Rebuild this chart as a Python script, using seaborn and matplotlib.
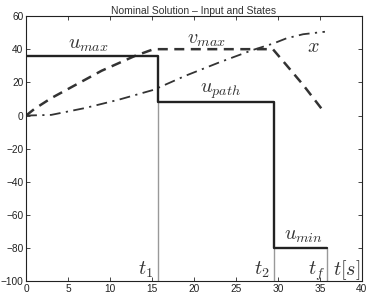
import matplotlib
matplotlib.use("Agg")
import matplotlib.pyplot as plt
import seaborn as sns
import numpy as np

# --- data ---
switch_times = [15.7, 29.5, 35.8]               # t1, t2, tf
u_times = [0.0, 15.7, 29.5, 35.8]
u_values = [36, 8, -80, -80]
gray_tops = [8, -80, -80]                        # top of the gray switch markers

v_times = [0.0, 1.0, 3.0, 5.0, 7.0, 9.0, 11.0, 13.0, 15.2, 20.0, 25.0, 29.4, 31.0, 33.0, 35.6]
v_values = [0.0, 4.0, 10.5, 16.0, 21.5, 27.0, 31.5, 36.0, 40.0, 40.0, 40.0, 40.0, 30.5, 18.5, 1.5]

x_times = [0.0, 3.0, 7.0, 11.0, 15.2, 19.0, 23.0, 27.0, 29.5, 31.0, 33.0, 35.6]
x_values = [0.0, 0.4, 4.5, 9.5, 15.5, 24.0, 32.0, 39.5, 43.5, 46.5, 49.0, 50.5]

x_ticks = [0, 5, 10, 15, 20, 25, 30, 35, 40]
y_ticks = [-100, -80, -60, -40, -20, 0, 20, 40, 60]

sns.set_style("white")
plt.rcParams['font.family'] = ['Liberation Sans', 'DejaVu Sans']
plt.rcParams['mathtext.fontset'] = 'cm'

fig = plt.figure(figsize=(3.67, 2.96), dpi=100)
ax = fig.add_axes([0.071, 0.049, 0.915, 0.897])

# gray switch markers
ax.vlines(switch_times, -100, gray_tops, colors='#999999', lw=1.0, zorder=1)

# input u (step)
sns.lineplot(x=u_times, y=u_values, ax=ax, color='#222222', lw=1.7,
             drawstyle='steps-post', estimator=None, sort=False, zorder=3)
# velocity v (dashed)
sns.lineplot(x=v_times, y=v_values, ax=ax, color='#333333', lw=1.8,
             estimator=None, sort=False, zorder=2, dashes=False)
ax.lines[-1].set_linestyle((0, (4, 2.6)))
# position x (dash-dot)
sns.lineplot(x=x_times, y=x_values, ax=ax, color='#333333', lw=1.3,
             estimator=None, sort=False, zorder=2, dashes=False)
ax.lines[-1].set_linestyle((0, (6, 3, 1.2, 3)))

ax.set_xlim(0, 40)
ax.set_ylim(-100, 60)
ax.set_xticks(x_ticks)
ax.set_yticks(y_ticks)
ax.tick_params(direction='in', length=3, width=0.6, labelsize=7.3,
               top=True, right=True, bottom=True, left=True, pad=2,
               labelcolor='#222222')
for s in ax.spines.values():
    s.set_color('#222222')
    s.set_linewidth(0.8)

ax.set_title("Nominal Solution \u2013 Input and States", fontsize=7.5, pad=1.5, color='#333333')

tk = dict(fontsize=14.5, color='#333333', ha='center', va='center')
ax.text(7.4, 43.0, r'$u_{max}$', **tk)
ax.text(21.5, 46.0, r'$v_{max}$', **tk)
ax.text(34.2, 41.5, r'$x$', **tk)
ax.text(23.1, 14.5, r'$u_{path}$', **tk)
ax.text(33.0, -72.5, r'$u_{min}$', **tk)
ax.text(14.2, -93, r'$t_1$', **tk)
ax.text(28.1, -93, r'$t_2$', **tk)
ax.text(34.6, -93.5, r'$t_f$', **tk)
ax.text(38.2, -93, r'$t[s]$', **tk)

fig.savefig("out.png", dpi=100)
